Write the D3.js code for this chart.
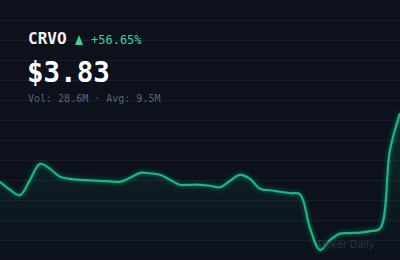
<!DOCTYPE html>
<html><head><meta charset="utf-8">
<script src="https://cdn.jsdelivr.net/npm/d3@7"></script>
<style>html,body{margin:0;padding:0;background:#0c111c;}svg{display:block;}</style>
</head><body>
<svg id="c" width="400" height="260"></svg>
<script>
const ticker = "CRVO";
const price = "$3.83";
const change = "+56.65%";
const volumeText = "Vol: 28.6M · Avg: 9.5M";
const watermark = "Ticker Daily";
const prices = [2.45,2.29,2.18,2.49,2.81,2.71,2.55,2.51,2.49,2.48,2.47,2.46,2.45,2.53,2.63,2.62,2.59,2.49,2.39,2.39,2.39,2.37,2.34,2.47,2.59,2.51,2.31,2.28,2.25,2.22,2.20,1.52,1.08,1.28,1.41,1.42,1.43,1.46,1.51,3.09,3.83];

const W=400,H=260;
const svg=d3.select("#c");
svg.append("rect").attr("width",W).attr("height",H).attr("fill","#0c111c");
const defs=svg.append("defs");
const g=defs.append("linearGradient").attr("id","fillg").attr("x1",0).attr("x2",0).attr("y1",0).attr("y2",1);
g.append("stop").attr("offset","0%").attr("stop-color","#10b981").attr("stop-opacity",0.13);
g.append("stop").attr("offset","100%").attr("stop-color","#10b981").attr("stop-opacity",0.0);
defs.append("filter").attr("id","glow").attr("x","-10%").attr("y","-10%").attr("width","120%").attr("height","120%")
  .append("feGaussianBlur").attr("stdDeviation",2);

// grid
const gridY=d3.range(20,260,20);
svg.append("g").selectAll("line").data(gridY).join("line")
  .attr("x1",0).attr("x2",W).attr("y1",d=>d+0.5).attr("y2",d=>d+0.5)
  .attr("stroke","#171d2b").attr("stroke-width",1);

const x=d3.scaleLinear().domain([0,prices.length-1]).range([0,W]);
const y=d3.scaleLinear().domain([1.0,4.0]).range([254,104.6]);
const curve=d3.curveCatmullRom.alpha(0.5);
const line=d3.line().x((d,i)=>x(i)).y(d=>y(d)).curve(curve);
const area=d3.area().x((d,i)=>x(i)).y0(H).y1(d=>y(d)).curve(curve);
svg.append("path").datum(prices).attr("d",area).attr("fill","url(#fillg)");
svg.append("path").datum(prices).attr("d",line).attr("fill","none").attr("stroke","#10b981").attr("stroke-width",4).attr("opacity",0.35).attr("filter","url(#glow)");
svg.append("path").datum(prices).attr("d",line).attr("fill","none").attr("stroke","#19b783").attr("stroke-width",2.2).attr("stroke-linejoin","round");

// texts
const mono="'DejaVu Sans Mono','Liberation Mono',monospace";
svg.append("text").attr("x",28).attr("y",44).attr("font-family",mono).attr("font-weight","bold").attr("font-size",16).attr("fill","#f3f4f6").text(ticker);
svg.append("path").attr("d","M75,45 L79,35 L83,45 Z").attr("fill","#34d399");
svg.append("text").attr("x",91).attr("y",44).attr("font-family",mono).attr("font-size",12).attr("fill","#34d399").text(change);
svg.append("text").attr("x",27).attr("y",82).attr("font-family",mono).attr("font-weight","bold").attr("font-size",27.5).attr("fill","#ffffff").text(price);
svg.append("text").attr("x",28).attr("y",102).attr("font-family",mono).attr("font-size",10).attr("fill","#5d6472").text(volumeText);
svg.append("text").attr("x",316).attr("y",248).attr("font-family","Inter,Roboto,sans-serif").attr("font-size",10.5).attr("fill","#2c3340").text(watermark);
</script>
</body></html>
